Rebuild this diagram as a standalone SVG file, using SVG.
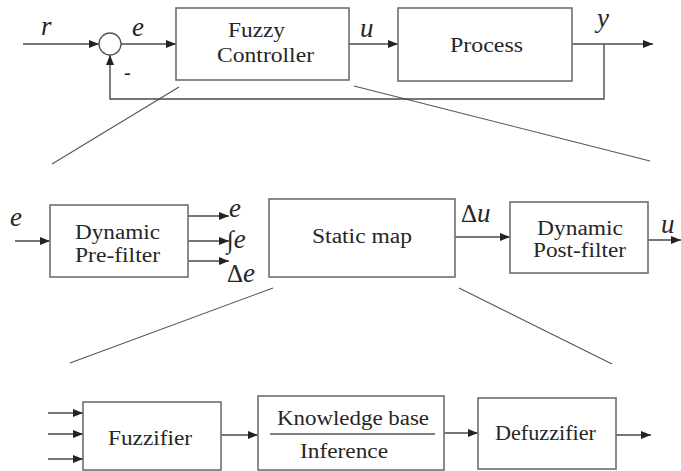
<svg xmlns="http://www.w3.org/2000/svg" width="681" height="471" viewBox="0 0 681 471">
<style>
.box{fill:#fff;stroke:#6e6e6e;stroke-width:1.6}
.ln{fill:none;stroke:#4a4a4a;stroke-width:1.4}
.zl{fill:none;stroke:#555;stroke-width:1.1}
text{font-family:"Liberation Serif","Times New Roman",Times,"Nimbus Roman","Noto Serif","DejaVu Serif","FreeSerif","Noto Serif CJK SC",serif;fill:#262626}
.t{font-size:20px}
.v{font-size:27px;font-style:italic}
.g{font-size:25px;font-style:normal}
</style>
<defs>
<marker id="ah" markerUnits="userSpaceOnUse" markerWidth="10" markerHeight="8" refX="10" refY="4" orient="auto">
<path d="M0,0 L10,4 L0,8 Z" fill="#222"/>
</marker>
</defs>
<rect width="681" height="471" fill="#fff"/>

<g id="zoom-lines">
<line class="zl" x1="179" y1="87" x2="52" y2="164"/>
<line class="zl" x1="354" y1="86" x2="650" y2="161"/>
<line class="zl" x1="273" y1="288" x2="70" y2="363"/>
<line class="zl" x1="459" y1="288" x2="612" y2="364"/>
</g>

<g id="connectors">
<line class="ln" x1="23" y1="44" x2="99" y2="44" marker-end="url(#ah)"/>
<line class="ln" x1="121" y1="44" x2="176" y2="44" marker-end="url(#ah)"/>
<line class="ln" x1="349" y1="44" x2="398" y2="44" marker-end="url(#ah)"/>
<line class="ln" x1="572" y1="44" x2="653" y2="44" marker-end="url(#ah)"/>
<polyline class="ln" points="604,44 604,99 110,99 110,55" marker-end="url(#ah)"/>

<line class="ln" x1="15" y1="241" x2="50" y2="241" marker-end="url(#ah)"/>
<line class="ln" x1="188" y1="216" x2="229" y2="216" marker-end="url(#ah)"/>
<line class="ln" x1="188" y1="241" x2="229" y2="241" marker-end="url(#ah)"/>
<line class="ln" x1="188" y1="261" x2="229" y2="261" marker-end="url(#ah)"/>
<line class="ln" x1="455" y1="237" x2="510" y2="237" marker-end="url(#ah)"/>
<line class="ln" x1="648" y1="240" x2="681" y2="240" marker-end="url(#ah)"/>

<line class="ln" x1="48" y1="413" x2="83" y2="413" marker-end="url(#ah)"/>
<line class="ln" x1="48" y1="434" x2="83" y2="434" marker-end="url(#ah)"/>
<line class="ln" x1="48" y1="459" x2="83" y2="459" marker-end="url(#ah)"/>
<line class="ln" x1="221" y1="435" x2="258" y2="435" marker-end="url(#ah)"/>
<line class="ln" x1="444" y1="433" x2="478" y2="433" marker-end="url(#ah)"/>
<line class="ln" x1="616" y1="435" x2="651" y2="435" marker-end="url(#ah)"/>
</g>

<g id="signal-labels">
<text class="v" x="41" y="35">r</text>
<text class="v" x="132" y="36">e</text>
<text class="t" x="124" y="79" font-size="22">-</text>
<text class="v" x="360" y="37">u</text>
<text class="v" x="597" y="27">y</text>

<text class="v" x="10" y="226">e</text>
<text class="v" x="229" y="217">e</text>
<text class="v" x="227" y="248"><tspan class="g">∫</tspan>e</text>
<text class="v" x="227" y="282"><tspan class="g">Δ</tspan>e</text>
<text class="v" x="461" y="222"><tspan class="g">Δ</tspan>u</text>
<text class="v" x="661" y="233">u</text>
</g>

<g id="sum">
<circle cx="110" cy="44" r="11" fill="#fff" stroke="#555" stroke-width="1.3"/>
</g>

<g id="fuzzy-controller">
<rect class="box" x="176" y="8" width="173" height="72"/>
<text class="t" x="228" y="37" textLength="57" lengthAdjust="spacingAndGlyphs">Fuzzy</text>
<text class="t" x="217" y="62" textLength="97" lengthAdjust="spacingAndGlyphs">Controller</text>
</g>

<g id="process">
<rect class="box" x="398" y="8" width="174" height="73"/>
<text class="t" x="450" y="52" textLength="73" lengthAdjust="spacingAndGlyphs">Process</text>
</g>

<g id="pre-filter">
<rect class="box" x="50" y="205" width="138" height="72"/>
<text class="t" x="75" y="239" textLength="85" lengthAdjust="spacingAndGlyphs">Dynamic</text>
<text class="t" x="75" y="262" textLength="85" lengthAdjust="spacingAndGlyphs">Pre-filter</text>
</g>

<g id="static-map">
<rect class="box" x="269" y="199" width="186" height="78"/>
<text class="t" x="312" y="243" textLength="100" lengthAdjust="spacingAndGlyphs">Static map</text>
</g>

<g id="post-filter">
<rect class="box" x="510" y="202" width="138" height="71"/>
<text class="t" x="537" y="235" textLength="86" lengthAdjust="spacingAndGlyphs">Dynamic</text>
<text class="t" x="533" y="257" textLength="93" lengthAdjust="spacingAndGlyphs">Post-filter</text>
</g>

<g id="fuzzifier">
<rect class="box" x="83" y="402" width="138" height="68"/>
<text class="t" x="108" y="445" textLength="84" lengthAdjust="spacingAndGlyphs">Fuzzifier</text>
</g>

<g id="knowledge-base">
<rect class="box" x="258" y="396" width="186" height="74"/>
<text class="t" x="277" y="425" textLength="152" lengthAdjust="spacingAndGlyphs">Knowledge base</text>
<line x1="270" y1="434" x2="435" y2="434" stroke="#555" stroke-width="1.3"/>
<text class="t" x="300" y="458" textLength="88" lengthAdjust="spacingAndGlyphs">Inference</text>
</g>

<g id="defuzzifier">
<rect class="box" x="478" y="398" width="138" height="71"/>
<text class="t" x="495" y="440" textLength="101" lengthAdjust="spacingAndGlyphs">Defuzzifier</text>
</g>
</svg>
